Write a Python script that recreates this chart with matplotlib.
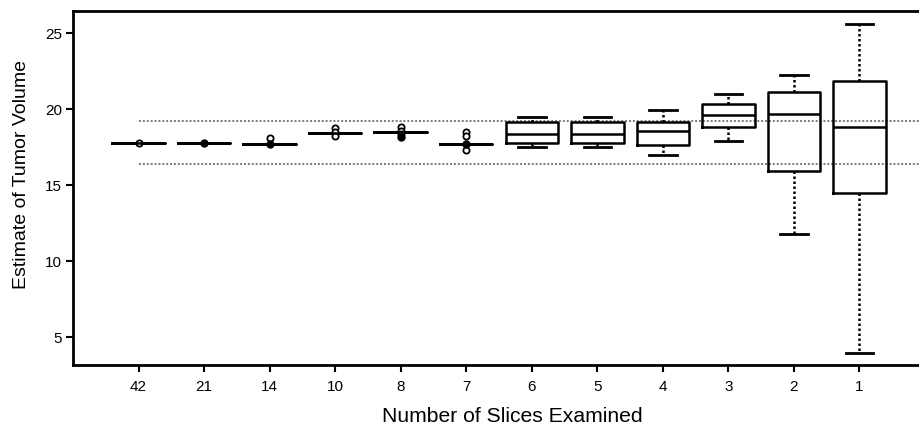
import numpy as np
import matplotlib
matplotlib.use('Agg')
import matplotlib.pyplot as plt

plt.rcParams['font.family'] = ['Liberation Sans', 'DejaVu Sans']

# slices examined (x categories) and box statistics
slice_labels = ['42', '21', '14', '10', '8', '7', '6', '5', '4', '3', '2', '1']
medians = [17.80, 17.80, 17.70, 18.44, 18.49, 17.68, 18.38, 18.38, 18.57, 19.60, 19.72, 18.84]
q1 = [17.80, 17.80, 17.70, 18.44, 18.49, 17.68, 17.81, 17.81, 17.65, 18.80, 15.92, 14.49]
q3 = [17.80, 17.80, 17.70, 18.44, 18.49, 17.68, 19.16, 19.16, 19.16, 20.37, 21.16, 21.89]
whis_lo = [17.80, 17.80, 17.70, 18.44, 18.49, 17.68, 17.52, 17.52, 16.97, 17.94, 11.76, 3.97]
whis_hi = [17.80, 17.80, 17.70, 18.44, 18.49, 17.68, 19.52, 19.52, 19.98, 21.00, 22.26, 25.61]
# outlying points (open circles) and overplotted points (look solid)
open_pts = [[17.80], [], [18.14], [18.77, 18.51, 18.24], [18.80, 18.57, 18.36],
            [18.51, 18.24, 17.35], [], [], [], [], [], []]
solid_pts = [[], [17.80], [17.68], [], [18.18], [17.72], [], [], [], [], [], []]

# reference band
band_lo, band_hi = 16.40, 19.23

fig = plt.figure(figsize=(9.19, 4.28), dpi=100)
ax = fig.add_axes([73/919, 63/428, 852/919, 354/428])

positions = np.arange(1, len(slice_labels) + 1)
stats = []
for i in range(len(slice_labels)):
    stats.append({'med': medians[i], 'q1': q1[i], 'q3': q3[i],
                  'whislo': whis_lo[i], 'whishi': whis_hi[i],
                  'fliers': open_pts[i]})

ax.hlines([band_lo, band_hi], 1, 13, colors='#7a7a7a', linestyles=(0, (1, 1)), lw=1.4, zorder=1)

ax.bxp(stats, positions=positions, widths=0.8, capwidths=0.42,
       boxprops=dict(color='black', lw=1.8),
       medianprops=dict(color='black', lw=1.8),
       whiskerprops=dict(color='black', lw=1.8, linestyle=(0, (1, 1))),
       capprops=dict(color='black', lw=2.0),
       flierprops=dict(marker='o', markersize=4.5, markerfacecolor='white',
                       markeredgecolor='black', markeredgewidth=1.3),
       zorder=3)

for i, pts in enumerate(solid_pts):
    if pts:
        ax.plot([positions[i]] * len(pts), pts, 'o', color='black', markersize=5, zorder=4)

ax.set_xlim(0, 13)
ax.set_ylim(3.16, 26.47)
ax.set_xticks(positions)
ax.set_xticklabels(slice_labels)
ax.set_yticks([5, 10, 15, 20, 25])

for s in ['left', 'bottom', 'top', 'right']:
    ax.spines[s].set_linewidth(2.0)
ax.tick_params(direction='out', length=5, width=1.5, labelsize=11)
ax.tick_params(axis='x', pad=5.5)
ax.tick_params(axis='y', pad=3)

ax.set_xlabel('Number of Slices Examined', fontsize=15.2)
ax.set_ylabel('Estimate of Tumor Volume', fontsize=14)
ax.xaxis.set_label_coords(0.516, -0.118)
ax.yaxis.set_label_coords(-0.05, 0.539)

fig.savefig('out.png', dpi=100)
